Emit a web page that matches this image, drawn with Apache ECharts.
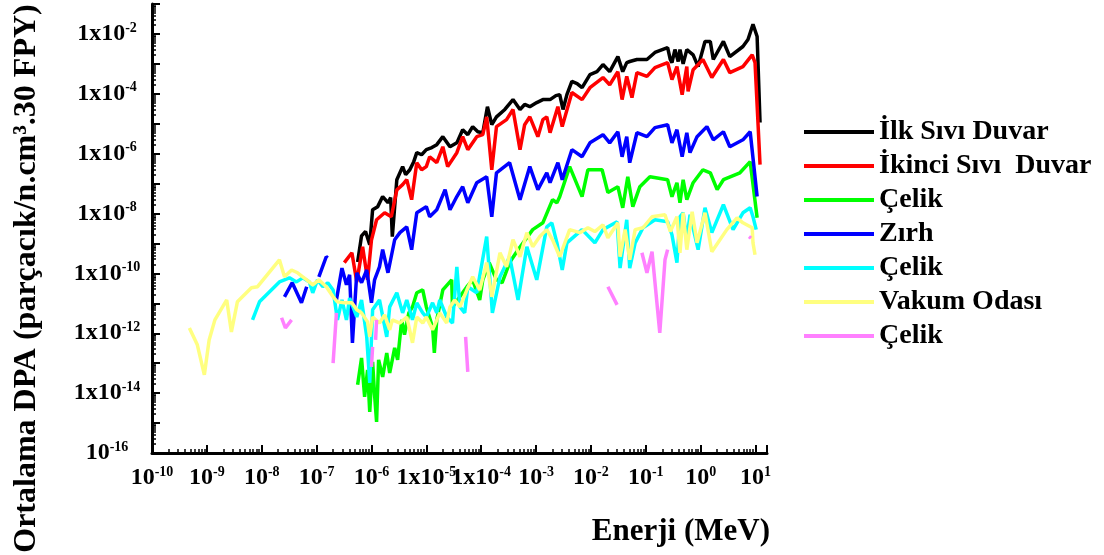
<!DOCTYPE html>
<html>
<head>
<meta charset="utf-8">
<title>Ortalama DPA</title>
<script src="https://cdn.jsdelivr.net/npm/echarts@6/dist/echarts.min.js"></script>
<style>
  html, body { margin: 0; padding: 0; background: #ffffff; }
  #dpaChart { width: 1104px; height: 555px; }
</style>
</head>
<body>
<div id="dpaChart"></div>
<script>
// energy (MeV) / DPA pairs, '-' = gap in the curve
const GAP = ['-', '-'];

const energyMin = 1e-10;
const energyMax = 16.2;
const dpaMin = 1e-16;
const dpaMax = 1e-1;

const seriesNames = ['İlk Sıvı Duvar', 'İkinci Sıvı  Duvar', 'Çelik', 'Zırh', 'Çelik ', 'Vakum Odası', 'Çelik  '];
const seriesColors = ['#000000', '#ff0000', '#00ff00', '#0000ff', '#00ffff', '#ffff80', '#ff80ff'];

const ilkSiviDuvar = [
  [5.6e-7, 2.4e-10], [6.6e-7, 1.8e-9], [7.8e-7, 2.5e-9], [9.3e-7, 9.0e-10], [1.05e-6, 1.34e-8],
  [1.3e-6, 1.7e-8], [1.6e-6, 3.7e-8], [2.0e-6, 2.3e-8], [2.24e-6, 3.4e-8], [2.4e-6, 1.7e-9],
  [2.9e-6, 1.35e-7], [3.7e-6, 3.7e-7], [4.2e-6, 2.0e-7], [5.0e-6, 2.9e-7], [5.9e-6, 5.4e-7],
  [6.7e-6, 1.08e-6], [8.2e-6, 9.2e-7], [1.0e-5, 1.36e-6], [1.26e-5, 1.6e-6], [1.55e-5, 2.0e-6],
  [2.0e-5, 3.7e-6], [2.7e-5, 1.7e-6], [3.6e-5, 2.3e-6], [4.6e-5, 6.3e-6], [5.7e-5, 4.3e-6],
  [7.0e-5, 8.0e-6], [8.7e-5, 5.4e-6], [1.07e-4, 5.0e-6], [1.3e-4, 3.7e-5], [1.56e-4, 9.3e-6],
  [1.9e-4, 1.7e-5], [2.7e-4, 3.0e-5], [3.8e-4, 6.4e-5], [5.1e-4, 3.0e-5], [6.2e-4, 4.4e-5],
  [7.7e-4, 3.7e-5], [1.03e-3, 5.1e-5], [1.33e-3, 6.4e-5], [1.8e-3, 6.4e-5], [2.3e-3, 8.7e-5],
  [2.7e-3, 9.4e-5], [3.1e-3, 3.0e-5], [3.65e-3, 9.4e-5], [4.5e-3, 2.6e-4], [5.6e-3, 2.2e-4],
  [6.9e-3, 1.6e-4], [9.6e-3, 4.4e-4], [1.29e-2, 5.5e-4], [1.66e-2, 9.5e-4], [2.2e-2, 5.5e-4],
  [3.1e-2, 1.75e-3], [3.8e-2, 5.5e-4], [4.5e-2, 1.1e-3], [5.1e-2, 1.2e-3], [6.9e-2, 1.4e-3],
  [0.105, 1.4e-3], [0.147, 2.4e-3], [0.25, 3.5e-3], [0.28, 1.4e-3], [0.30, 1.1e-3],
  [0.34, 3.0e-3], [0.39, 1.2e-3], [0.42, 3.0e-3], [0.48, 1.0e-3], [0.56, 3.0e-3],
  [0.73, 2.0e-3], [0.90, 8.1e-4], [1.2, 5.6e-3], [1.5, 5.6e-3], [1.7, 1.4e-3],
  [2.6, 5.6e-3], [3.4, 1.75e-3], [5.9, 3.8e-3], [7.3, 6.5e-3], [9.0, 2.1e-2],
  [10.7, 8.2e-3], [12.1, 1.1e-5]
];

const ikinciSiviDuvar = [
  [3.2e-7, 2.3e-10], [4.4e-7, 4.9e-10], [5.4e-7, 5.2e-11], [6.9e-7, 7.8e-10], [8.5e-7, 6.1e-11],
  [1.0e-6, 1.3e-9], [1.24e-6, 6.2e-9], [1.74e-6, 1.06e-8], [2.3e-6, 7.8e-9], [2.9e-6, 6.2e-8],
  [3.7e-6, 9.2e-8], [4.4e-6, 1.35e-7], [5.4e-6, 2.9e-8], [6.7e-6, 5.0e-7], [8.2e-6, 2.9e-7],
  [1.0e-5, 3.7e-7], [1.15e-5, 7.9e-7], [1.55e-5, 5.0e-7], [2.0e-5, 1.7e-6], [2.45e-5, 3.7e-7],
  [3.6e-5, 1.08e-6], [4.6e-5, 3.7e-6], [5.7e-5, 1.36e-6], [8.3e-5, 3.7e-6], [1.07e-4, 4.3e-6],
  [1.26e-4, 1.7e-5], [1.56e-4, 2.9e-7], [1.9e-4, 8.0e-6], [2.9e-4, 1.37e-5], [3.8e-4, 3.0e-5],
  [5.1e-4, 1.36e-6], [6.2e-4, 9.3e-6], [7.7e-4, 1.7e-5], [1.08e-3, 3.7e-6], [1.33e-3, 1.37e-5],
  [1.57e-3, 1.7e-5], [1.8e-3, 5.0e-6], [2.5e-3, 3.7e-5], [3.0e-3, 8.0e-6], [4.5e-3, 1.1e-4],
  [6.9e-3, 6.4e-5], [9.6e-3, 1.6e-4], [1.66e-2, 3.5e-4], [2.2e-2, 2.0e-4], [3.1e-2, 5.5e-4],
  [3.7e-2, 6.4e-5], [4.5e-2, 3.8e-4], [5.6e-2, 7.5e-5], [6.9e-2, 5.1e-4], [0.105, 3.8e-4],
  [0.147, 7.5e-4], [0.25, 1.1e-3], [0.30, 3.0e-4], [0.37, 8.1e-4], [0.46, 9.4e-5],
  [0.56, 8.1e-4], [0.59, 1.2e-4], [0.73, 6.4e-4], [1.1, 1.4e-3], [1.6, 3.5e-4],
  [2.6, 1.4e-3], [3.4, 5.1e-4], [5.9, 8.1e-4], [8.7, 2.0e-3], [9.8, 1.1e-3],
  [12.1, 4.3e-7]
];

const celik1 = [
  [5.6e-7, 1.9e-14], [6.6e-7, 1.5e-13], [7.5e-7, 7.5e-15], [8.5e-7, 5.9e-14], [9.3e-7, 2.35e-15],
  [1.05e-6, 1.1e-13], [1.14e-6, 8.7e-15], [1.24e-6, 1.09e-15], [1.35e-6, 1.3e-13], [1.6e-6, 3.5e-14],
  [1.9e-6, 2.2e-13], [2.15e-6, 4.7e-14], [2.65e-6, 3.25e-13], [3.0e-6, 1.3e-13], [3.56e-6, 2.8e-12],
  [4.0e-6, 8.9e-13], [4.8e-6, 4.8e-12], [5.6e-6, 7.6e-12], [6.7e-6, 2.25e-11], [8.6e-6, 2.8e-11],
  [1.0e-5, 7.6e-12], [1.3e-5, 1.6e-12], [1.4e-5, 2.2e-13], [1.55e-5, 2.8e-12], [2.0e-5, 2.8e-11],
  [2.9e-5, 6.1e-11], [3.0e-5, 7.6e-12], [3.7e-5, 1.3e-11], [5.5e-5, 3.6e-11], [7.0e-5, 6.1e-11],
  [9.4e-5, 1.3e-11], [1.07e-4, 6.1e-11], [1.4e-4, 2.3e-10], [1.9e-4, 6.1e-11], [2.4e-4, 4.85e-11],
  [3.3e-4, 2.3e-10], [4.7e-4, 6.2e-10], [8.7e-4, 2.9e-9], [1.33e-3, 4.9e-9], [2.0e-3, 2.9e-8],
  [2.4e-3, 2.3e-8], [2.7e-3, 3.65e-8], [4.1e-3, 3.7e-7], [6.9e-3, 3.65e-8], [8.8e-3, 2.9e-7],
  [1.6e-2, 2.9e-7], [2.04e-2, 5.0e-8], [3.1e-2, 7.9e-8], [3.8e-2, 1.56e-8], [4.7e-2, 1.7e-7],
  [5.8e-2, 1.7e-8], [7.8e-2, 7.9e-8], [0.119, 1.7e-7], [0.25, 1.35e-7], [0.30, 3.65e-8],
  [0.37, 1.07e-7], [0.42, 2.3e-8], [0.48, 1.35e-7], [0.56, 2.9e-8], [0.73, 1.07e-7],
  [1.1, 2.9e-7], [1.5, 2.3e-7], [2.0, 6.3e-8], [2.6, 1.35e-7], [5.2, 2.3e-7],
  [8.0, 5.4e-7], [10.7, 7.2e-9]
];

const zirh = [
  [2.6e-8, 1.65e-11], [3.6e-8, 4.9e-11], [5.3e-8, 1.04e-11], [6.6e-8, 3.6e-11], GAP,
  [1.1e-7, 7.7e-11], [1.5e-7, 3.6e-10], [1.6e-7, 3.3e-10], GAP,
  [2.3e-7, 1.3e-11], [2.9e-7, 1.5e-10], [3.5e-7, 4.2e-11], [4.0e-7, 9.0e-11], [4.5e-7, 4.8e-13],
  [5.4e-7, 1.05e-10], [6.6e-7, 4.9e-11], [8.2e-7, 1.3e-10], [1.0e-6, 1.04e-11], [1.14e-6, 6.1e-11],
  [1.4e-6, 1.66e-10], [1.6e-6, 6.2e-10], [2.0e-6, 1.05e-10], [2.65e-6, 1.33e-9], [3.3e-6, 2.3e-9],
  [4.4e-6, 3.6e-9], [5.4e-6, 6.2e-10], [6.7e-6, 1.06e-8], [1.0e-5, 1.7e-8], [1.15e-5, 7.8e-9],
  [1.55e-5, 1.34e-8], [2.2e-5, 6.3e-8], [2.7e-5, 1.34e-8], [3.6e-5, 3.7e-8], [4.6e-5, 7.9e-8],
  [5.7e-5, 2.3e-8], [8.3e-5, 1.07e-7], [1.26e-4, 1.7e-7], [1.56e-4, 7.8e-9], [1.9e-4, 2.3e-7],
  [3.3e-4, 5.0e-7], [5.1e-4, 2.9e-8], [7.7e-4, 3.7e-7], [1.08e-3, 6.3e-8], [1.57e-3, 2.3e-7],
  [1.8e-3, 1.07e-7], [2.5e-3, 5.0e-7], [3.0e-3, 1.35e-7], [4.5e-3, 1.36e-6], [6.9e-3, 7.9e-7],
  [9.6e-3, 2.3e-6], [1.66e-2, 4.3e-6], [2.2e-2, 2.3e-6], [3.1e-2, 5.4e-6], [3.7e-2, 7.9e-7],
  [4.5e-2, 3.7e-6], [5.1e-2, 5.0e-7], [6.9e-2, 5.0e-6], [0.105, 3.7e-6], [0.147, 7.4e-6],
  [0.25, 9.3e-6], [0.30, 2.3e-6], [0.37, 6.3e-6], [0.46, 7.9e-7], [0.56, 5.0e-6],
  [0.64, 1.08e-6], [0.86, 3.7e-6], [1.3, 8.0e-6], [1.7, 2.9e-6], [2.6, 5.4e-6],
  [3.4, 1.7e-6], [5.9, 2.9e-6], [8.0, 5.4e-6], [10.7, 3.7e-8]
];

const celik2 = [
  [6.8e-9, 2.8e-12], [9.1e-9, 1.12e-11], [2.1e-8, 5.2e-11], [3.2e-8, 7.1e-11], [4.3e-8, 5.2e-11],
  [5.6e-8, 7.1e-11], [7.4e-8, 5.2e-11], [8.5e-8, 2.25e-11], [1.04e-7, 6.1e-11], [1.3e-7, 3.6e-11],
  [1.6e-7, 4.85e-11], [2.0e-7, 2.8e-11], [2.4e-7, 2.8e-12], [2.9e-7, 1.3e-11], [3.5e-7, 2.8e-12],
  [4.0e-7, 1.5e-11], [5.4e-7, 3.5e-12], [6.6e-7, 1.3e-11], [8.2e-7, 7.6e-13], [9.3e-7, 2.2e-14],
  [1.05e-6, 6.1e-12], [1.4e-6, 1.3e-11], [1.9e-6, 7.6e-13], [2.15e-6, 7.6e-12], [2.9e-6, 2.25e-11],
  [3.7e-6, 4.8e-12], [4.4e-6, 1.3e-11], [5.6e-6, 2.8e-12], [6.7e-6, 1.04e-11], [8.6e-6, 4.8e-12],
  [1.0e-5, 3.5e-12], [1.3e-5, 1.04e-11], [1.55e-5, 4.8e-12], [1.76e-5, 1.3e-11], [2.35e-5, 3.5e-12],
  [3.0e-5, 2.2e-12], [3.6e-5, 1.66e-10], [4.1e-5, 7.6e-12], [5.0e-5, 4.8e-12], [5.7e-5, 3.6e-11],
  [8.3e-5, 2.25e-11], [1.26e-4, 1.7e-9], [1.6e-4, 4.8e-12], [2.2e-4, 7.7e-11], [3.3e-4, 3.6e-10],
  [4.7e-4, 1.3e-11], [6.8e-4, 7.8e-10], [1.03e-3, 6.1e-11], [1.57e-3, 3.6e-9], [1.94e-3, 4.9e-9],
  [2.4e-3, 1.05e-9], [3.0e-3, 1.3e-10], [3.65e-3, 1.05e-9], [6.9e-3, 2.9e-9], [1.18e-2, 1.05e-9],
  [1.66e-2, 2.9e-9], [3.0e-2, 5.3e-9], [3.4e-2, 1.5e-10], [4.5e-2, 6.2e-9], [5.1e-2, 1.5e-10],
  [6.4e-2, 1.05e-9], [8.9e-2, 3.35e-9], [0.147, 6.2e-9], [0.25, 5.3e-9], [0.30, 1.95e-9],
  [0.37, 2.3e-10], [0.42, 7.8e-9], [0.48, 1.06e-8], [0.56, 1.33e-9], [0.64, 9.1e-9],
  [0.90, 6.2e-10], [1.2, 1.56e-8], [1.6, 2.3e-9], [2.6, 1.97e-8], [3.9, 2.9e-9],
  [5.9, 1.06e-8], [8.0, 1.56e-8], [9.0, 7.8e-9], [10.3, 2.9e-9]
];

const vakumOdasi = [
  [4.8e-10, 1.5e-12], [6.7e-10, 4.1e-13], [9.0e-10, 4.1e-14], [1.1e-9, 6.0e-13], [1.4e-9, 2.8e-12],
  [2.3e-9, 1.3e-11], [2.8e-9, 1.1e-12], [3.6e-9, 1.12e-11], [6.5e-9, 3.3e-11], [8.4e-9, 3.6e-11],
  [2.1e-8, 2.85e-10], [2.6e-8, 7.7e-11], [3.5e-8, 1.3e-10], [4.5e-8, 1.05e-10], [6.6e-8, 6.1e-11],
  [8.5e-8, 4.15e-11], [1.1e-7, 6.1e-11], [1.5e-7, 3.6e-11], [2.0e-7, 1.65e-11], [2.4e-7, 1.12e-11],
  [3.2e-7, 1.04e-11], [4.4e-7, 1.04e-11], [5.4e-7, 6.1e-12], [6.6e-7, 4.8e-12], [8.5e-7, 2.4e-12],
  [9.3e-7, 7.6e-13], [1.05e-6, 3.5e-12], [1.4e-6, 2.2e-12], [1.74e-6, 4.1e-12], [2.15e-6, 1.3e-12],
  [2.4e-6, 2.8e-12], [3.3e-6, 2.2e-12], [4.4e-6, 3.5e-12], [5.6e-6, 4.8e-13], [6.7e-6, 3.5e-12],
  [8.6e-6, 2.2e-12], [1.0e-5, 3.5e-12], [1.3e-5, 1.3e-12], [1.76e-5, 4.8e-12], [2.35e-5, 2.2e-12],
  [2.7e-5, 7.6e-12], [3.3e-5, 1.3e-11], [4.1e-5, 7.6e-12], [5.5e-5, 2.8e-11], [7.0e-5, 7.7e-11],
  [9.4e-5, 2.8e-11], [1.26e-4, 2.3e-10], [1.56e-4, 1.65e-11], [2.2e-4, 4.9e-10], [2.9e-4, 1.66e-10],
  [3.8e-4, 1.33e-9], [5.1e-4, 3.6e-10], [6.8e-4, 2.3e-9], [8.7e-4, 7.8e-10], [1.17e-3, 1.7e-9],
  [1.57e-3, 2.9e-9], [2.0e-3, 1.33e-9], [2.7e-3, 3.6e-10], [4.1e-3, 2.9e-9], [6.3e-3, 2.3e-9],
  [8.8e-3, 3.35e-9], [1.18e-2, 2.5e-9], [1.66e-2, 4.2e-9], [2.04e-2, 1.55e-9], [3.1e-2, 4.9e-9],
  [3.4e-2, 3.6e-10], [4.2e-2, 2.9e-9], [5.1e-2, 2.85e-10], [6.4e-2, 2.9e-9], [8.9e-2, 3.35e-9],
  [0.13, 7.8e-9], [0.224, 9.1e-9], [0.28, 2.5e-9], [0.37, 7.8e-9], [0.42, 4.9e-10],
  [0.48, 1.06e-8], [0.56, 6.2e-10], [0.70, 1.15e-8], [0.86, 1.05e-9], [1.2, 1.06e-8],
  [1.6, 5.3e-10], [3.0, 2.9e-9], [4.6, 7.2e-9], [5.9, 4.9e-9], [8.7, 3.35e-9],
  [9.0, 1.05e-9], [9.8, 4.2e-10]
];

const celik3 = [
  [2.3e-8, 3.3e-12], [2.7e-8, 1.5e-12], [3.5e-8, 2.8e-12], GAP,
  [2.0e-7, 1.0e-13], [2.3e-7, 4.8e-12], GAP,
  [1.0e-6, 7.5e-14], [1.05e-6, 3.5e-13], GAP,
  [1.19e-6, 6.0e-13], [1.24e-6, 2.8e-12], GAP,
  [5.2e-5, 7.6e-13], [5.7e-5, 5.1e-14], GAP,
  [2.04e-2, 3.6e-11], [3.0e-2, 8.9e-12], GAP,
  [8.5e-2, 4.9e-10], [0.105, 1.05e-10], [0.13, 5.3e-10], [0.18, 1.03e-12], [0.224, 2.85e-10], [0.25, 6.2e-10], GAP,
  [7.6, 1.7e-9], [8.3, 1.5e-9]
];

const seriesData = [ilkSiviDuvar, ikinciSiviDuvar, celik1, zirh, celik2, vakumOdasi, celik3];

const serif = '"Liberation Serif", "Times New Roman", serif';

const supRich = {
  b: { fontFamily: serif, fontWeight: 'bold', fontSize: 24, color: '#000', lineHeight: 26 },
  s: { fontFamily: serif, fontWeight: 'bold', fontSize: 14, color: '#000', lineHeight: 12, verticalAlign: 'top' }
};

function decade(value) {
  const e = Math.log10(value);
  const r = Math.round(e);
  return Math.abs(e - r) < 0.01 ? r : null;
}

function xLabel(value) {
  const e = decade(value);
  if (e === null) return '';
  const base = (e === -5 || e === -4) ? '1x10' : '10';
  return '{b|' + base + '}{s|' + e + '}';
}

function yLabel(value) {
  const e = decade(value);
  if (e === null || e % 2 !== 0) return '';
  const base = e === -16 ? '10' : '1x10';
  return '{b|' + base + '}{s|' + e + '}';
}

const option = {
  animation: false,
  backgroundColor: '#ffffff',
  grid: { left: 152, top: 4, right: 337, bottom: 102, containLabel: false, outerBoundsMode: 'none' },
  legend: {
    orient: 'vertical',
    left: 799,
    top: 112,
    icon: 'rect',
    itemWidth: 70,
    itemHeight: 4,
    itemGap: 4,
    data: seriesNames,
    formatter: name => name.trim(),
    textStyle: { fontFamily: serif, fontWeight: 'bold', fontSize: 28, color: '#000', lineHeight: 30 }
  },
  xAxis: {
    type: 'log',
    logBase: 10,
    min: energyMin,
    max: energyMax,
    splitNumber: 11,
    interval: 1,
    name: 'Enerji (MeV)',
    nameLocation: 'end',
    nameGap: 3,
    nameTextStyle: {
      fontFamily: serif, fontWeight: 'bold', fontSize: 31, color: '#000',
      align: 'right', verticalAlign: 'top', padding: [63, 0, 0, 0]
    },
    axisLine: { lineStyle: { color: '#000', width: 3 } },
    axisTick: { inside: true, length: 8, lineStyle: { color: '#000', width: 2 } },
    minorTick: { show: true, splitNumber: 9, length: 4, lineStyle: { color: '#000', width: 1.5 } },
    axisLabel: { margin: 12, formatter: xLabel, rich: supRich },
    splitLine: { show: false }
  },
  yAxis: {
    type: 'log',
    logBase: 10,
    min: dpaMin,
    max: dpaMax,
    splitNumber: 15,
    interval: 1,
    name: 'Ortalama DPA (parçacık/n.cm³.30 FPY)',
    nameLocation: 'middle',
    nameGap: 109,
    nameRotate: 90,
    nameTextStyle: {
      fontFamily: serif, fontWeight: 'bold', fontSize: 32, color: '#000',
      padding: [0, 100, 0, 0]
    },
    axisLine: { lineStyle: { color: '#000', width: 3 } },
    axisTick: { inside: true, length: 8, lineStyle: { color: '#000', width: 2 } },
    minorTick: { show: true, splitNumber: 9, length: 4, lineStyle: { color: '#000', width: 1.5 } },
    axisLabel: { margin: 45, align: 'center', formatter: yLabel, rich: supRich },
    splitLine: { show: false }
  },
  series: seriesData.map((data, i) => ({
    name: seriesNames[i],
    type: 'line',
    data: data,
    symbol: 'none',
    connectNulls: false,
    color: seriesColors[i],
    lineStyle: { color: seriesColors[i], width: 3.5 },
    emphasis: { disabled: true }
  }))
};

const dpaChart = echarts.init(document.getElementById('dpaChart'), null, { renderer: 'canvas' });
dpaChart.setOption(option);
</script>
</body>
</html>
